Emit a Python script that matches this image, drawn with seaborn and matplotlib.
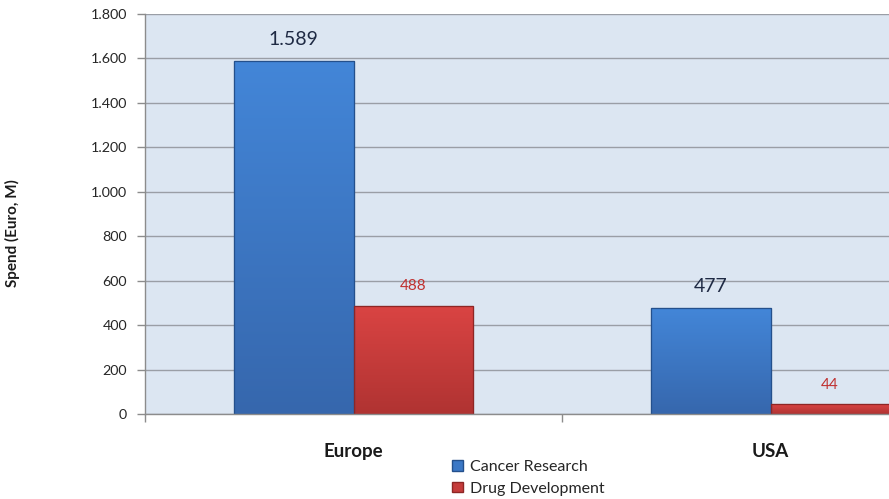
import matplotlib
matplotlib.use("Agg")
import matplotlib.pyplot as plt
import seaborn as sns
import pandas as pd
import numpy as np
from matplotlib.ticker import FuncFormatter, FixedLocator
from matplotlib.colors import LinearSegmentedColormap
from matplotlib.patches import Patch

regions = ["Europe", "USA"]
series = ["Cancer Research", "Drug Development"]
cancer = [1589, 477]
drug = [488, 44]
yticks = [0, 200, 400, 600, 800, 1000, 1200, 1400, 1600, 1800]

df = pd.DataFrame({
    "Region": regions * 2,
    "Series": [series[0]] * 2 + [series[1]] * 2,
    "Spend": cancer + drug,
})

sns.set_theme(style="white")
plt.rcParams["font.family"] = ["Lato", "DejaVu Sans"]

colors = {"Cancer Research": "#3b78c6", "Drug Development": "#c53c3b"}
edge = {"Cancer Research": "#24508c", "Drug Development": "#8e2625"}
grad = {"Cancer Research": ("#3667ad", "#4386d8"),
        "Drug Development": ("#b03332", "#da4443")}

fig = plt.figure(figsize=(8.89, 4.99), dpi=100)
ax = fig.add_axes([145/889, 85/499, 1 - 145/889, 400/499])
ax.set_facecolor("#dce6f2")

sns.barplot(data=df, x="Region", y="Spend", hue="Series", palette=colors,
            width=0.572, gap=0, ax=ax, legend=False, saturation=1)

xlim = (-0.5, 0.5 + (889 - 562) / 417)
ylim = (0, 1800)

gvals = np.linspace(0, 1, 256).reshape(-1, 1)
for cont, s in zip(ax.containers, series):
    cmap = LinearSegmentedColormap.from_list(s, list(grad[s]))
    for bar in cont:
        bar.set_edgecolor(edge[s])
        bar.set_linewidth(0.8)
        x0, w, h = bar.get_x(), bar.get_width(), bar.get_height()
        im = ax.imshow(gvals, cmap=cmap, aspect="auto", origin="lower",
                       extent=(x0, x0 + w, 0, h), zorder=bar.get_zorder() + 0.1,
                       interpolation="bilinear")
        im.set_clip_path(bar)
        ax.add_patch(plt.Rectangle((x0, 0), w, h, fill=False, edgecolor=edge[s],
                                   linewidth=0.9, zorder=bar.get_zorder() + 0.2))

ax.set_xlim(*xlim)
ax.set_ylim(*ylim)
ax.set_yticks(yticks)
ax.yaxis.set_major_formatter(FuncFormatter(lambda v, p: f"{int(v):,}".replace(",", ".")))
ax.yaxis.grid(True, color="#9a9ea6", linewidth=1)
ax.set_axisbelow(True)
ax.tick_params(axis="y", length=6, width=1, color="#8c8c8c", labelsize=10.3,
               labelcolor="#262626", pad=7, left=True)
ax.set_xticks([0, 1])
ax.set_xticklabels(regions, fontsize=13.5, fontweight="bold", color="#1a1a1a")
ax.tick_params(axis="x", length=0, pad=21)
ax.xaxis.set_minor_locator(FixedLocator([-0.5, 0.5]))
ax.tick_params(axis="x", which="minor", length=6, width=1, color="#8c8c8c", bottom=True)

for sp in ["top", "right"]:
    ax.spines[sp].set_visible(False)
for sp in ["left", "bottom"]:
    ax.spines[sp].set_color("#8c8c8c")
    ax.spines[sp].set_linewidth(1)

ax.set_xlabel("")
ax.set_ylabel("Spend (Euro, M)", fontsize=11, fontweight="bold", color="#1a1a1a")
ax.yaxis.set_label_coords((20 - 145) / 744, (414 - 233) / 400)

lab_cfg = {"Cancer Research": dict(color="#1f2a44", size=14),
           "Drug Development": dict(color="#c0302f", size=11)}
for cont, s in zip(ax.containers, series):
    for bar in cont:
        v = bar.get_height()
        txt = f"{int(v):,}".replace(",", ".")
        ax.annotate(txt, (bar.get_x() + bar.get_width() / 2, v),
                    xytext=(0, 9), textcoords="offset points",
                    ha="center", va="bottom", color=lab_cfg[s]["color"],
                    fontsize=lab_cfg[s]["size"])

handles = [Patch(facecolor=colors[s], edgecolor=edge[s], label=s) for s in series]
fig.legend(handles=handles, loc="lower left", bbox_to_anchor=(446/889, -3/499),
           frameon=False, fontsize=11.5, handlelength=0.65, handleheight=0.65,
           handletextpad=0.45, labelspacing=0.45, borderaxespad=0)

fig.savefig("out.png", dpi=100)
